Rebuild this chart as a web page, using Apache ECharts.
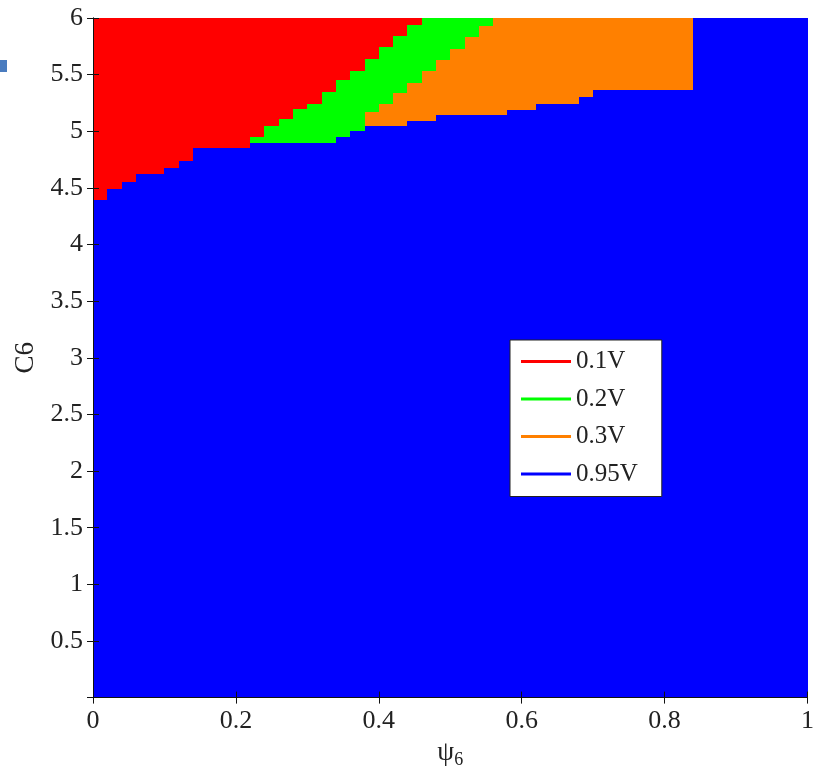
<!DOCTYPE html>
<html>
<head>
<meta charset="utf-8">
<title>C6 vs psi6 region map</title>
<script src="https://cdn.jsdelivr.net/npm/echarts@6/dist/echarts.min.js"></script>
<style>
  html, body { margin: 0; padding: 0; background: #fff; }
  #chart { width: 817px; height: 774px; }
</style>
</head>
<body>
<div id="chart"></div>
<script>
// Column start positions along psi6 (each column runs to the next start, last one to 1)
const psiStarts = [0, 0.02, 0.04, 0.06, 0.10, 0.12, 0.14, 0.22, 0.24, 0.26, 0.28, 0.30, 0.32, 0.34, 0.36,
                   0.38, 0.40, 0.42, 0.44, 0.46, 0.48, 0.50, 0.52, 0.54, 0.56, 0.58, 0.62, 0.68, 0.70, 0.84];
// Upper C6 edge of the 0.95V region in each column
const blueTop   = [4.39, 4.49, 4.55, 4.62, 4.68, 4.74, 4.85, 4.90, 4.90, 4.90, 4.90, 4.90, 4.90, 4.95, 5.00,
                   5.05, 5.05, 5.05, 5.09, 5.09, 5.14, 5.14, 5.14, 5.14, 5.14, 5.19, 5.24, 5.30, 5.36, 6.00];
// Upper C6 edge of the 0.3V region (equal to blueTop where the band is absent)
const orangeTop = [4.39, 4.49, 4.55, 4.62, 4.68, 4.74, 4.85, 4.90, 4.90, 4.90, 4.90, 4.90, 4.90, 4.95, 5.00,
                   5.17, 5.24, 5.34, 5.43, 5.53, 5.63, 5.73, 5.83, 5.93, 6.00, 6.00, 6.00, 6.00, 6.00, 6.00];
// Upper C6 edge of the 0.2V region; the 0.1V region fills from here to the top
const greenTop  = [4.39, 4.49, 4.55, 4.62, 4.68, 4.74, 4.85, 4.95, 5.05, 5.11, 5.20, 5.24, 5.35, 5.45, 5.53,
                   5.64, 5.74, 5.84, 5.94, 6.00, 6.00, 6.00, 6.00, 6.00, 6.00, 6.00, 6.00, 6.00, 6.00, 6.00];

const C6_MAX = 6;
const seriesNames = ['0.1V', '0.2V', '0.3V', '0.95V'];
const seriesColors = ['#ff0000', '#00ff00', '#ff8000', '#0000ff'];

function columnEnd(i) {
  return i + 1 < psiStarts.length ? psiStarts[i + 1] : 1;
}

// [x0, x1, low, high] bands for each region
function bands(lowArr, highArr) {
  return psiStarts.map((x, i) => [x, columnEnd(i), lowArr ? lowArr[i] : 0, highArr ? highArr[i] : C6_MAX]);
}

const bandData = [
  bands(greenTop, null),      // 0.1V
  bands(orangeTop, greenTop), // 0.2V
  bands(blueTop, orangeTop),  // 0.3V
  bands(null, blueTop)        // 0.95V
];

function renderBand(params, api) {
  const x0 = api.value(0), x1 = api.value(1), lo = api.value(2), hi = api.value(3);
  if (!(hi > lo)) return null;
  const pTop = api.coord([x0, hi]);
  const pBot = api.coord([x1, lo]);
  const l = Math.round(pTop[0]), r = Math.round(pBot[0]);
  const t = Math.round(pTop[1]), b = Math.round(pBot[1]);
  return {
    type: 'rect',
    shape: { x: l, y: t, width: r - l, height: b - t },
    style: { fill: api.visual('color') }
  };
}

const serifFont = '"Liberation Serif", "DejaVu Serif", serif';

const chart = echarts.init(document.getElementById('chart'), null, { renderer: 'canvas' });

chart.setOption({
  animation: false,
  backgroundColor: '#ffffff',
  grid: { left: 93, right: 7, top: 18, bottom: 74 },
  xAxis: [
    {
      type: 'value', min: 0, max: 1, interval: 0.2, z: 5,
      name: '{a|ψ}{b|6}',
      nameLocation: 'middle', nameGap: 38,
      nameTextStyle: {
        rich: {
          a: { fontFamily: serifFont, fontSize: 27, color: '#222' },
          b: { fontFamily: serifFont, fontSize: 18, color: '#222', padding: [14, 0, 0, 0] }
        }
      },
      axisLine: { show: true, lineStyle: { color: '#111', width: 1 } },
      axisTick: { show: true, inside: true, length: 6, lineStyle: { color: '#111' } },
      axisLabel: {
        margin: 11, fontFamily: serifFont, fontSize: 26, color: '#222',
        formatter: v => String(Math.round(v * 10) / 10)
      },
      splitLine: { show: false }
    },
    {
      type: 'value', min: 0, max: 1, interval: 0.2, position: 'top', z: 5,
      axisLine: { show: true, lineStyle: { color: '#111', width: 1 } },
      axisTick: { show: true, inside: true, length: 6, lineStyle: { color: '#111' } },
      axisLabel: { show: false },
      splitLine: { show: false }
    }
  ],
  yAxis: [
    {
      type: 'value', min: 0, max: 6, interval: 0.5, z: 5,
      name: 'C6',
      nameLocation: 'middle', nameGap: 53, nameRotate: 90,
      nameTextStyle: { fontFamily: serifFont, fontSize: 27, color: '#222' },
      axisLine: { show: true, lineStyle: { color: '#111', width: 1 } },
      axisTick: { show: true, inside: true, length: 6, lineStyle: { color: '#111' } },
      axisLabel: {
        margin: 10, fontFamily: serifFont, fontSize: 26, color: '#222',
        formatter: v => (v === 0 ? '' : String(Math.round(v * 10) / 10))
      },
      splitLine: { show: false }
    },
    {
      type: 'value', min: 0, max: 6, interval: 0.5, position: 'right', z: 5,
      axisLine: { show: true, lineStyle: { color: '#111', width: 1 } },
      axisTick: { show: true, inside: true, length: 6, lineStyle: { color: '#111' } },
      axisLabel: { show: false },
      splitLine: { show: false }
    }
  ],
  legend: {
    data: seriesNames,
    orient: 'vertical',
    left: 510, top: 340,
    z: 10,
    backgroundColor: '#ffffff',
    borderColor: '#222', borderWidth: 1,
    padding: [9, 24, 10, 11],
    itemGap: 12.5,
    itemWidth: 50, itemHeight: 3,
    icon: 'rect',
    selectedMode: false,
    textStyle: { fontFamily: serifFont, fontSize: 25, lineHeight: 25, color: '#222' }
  },
  graphic: [
    { type: 'rect', left: 0, top: 60, shape: { width: 7, height: 12 }, style: { fill: '#4a7cbf' } }
  ],
  series: seriesNames.map((name, k) => ({
    type: 'custom',
    name: name,
    xAxisIndex: 0, yAxisIndex: 0,
    z: 2,
    itemStyle: { color: seriesColors[k] },
    encode: { x: [0, 1], y: [2, 3] },
    renderItem: renderBand,
    data: bandData[k]
  }))
});
</script>
</body>
</html>
